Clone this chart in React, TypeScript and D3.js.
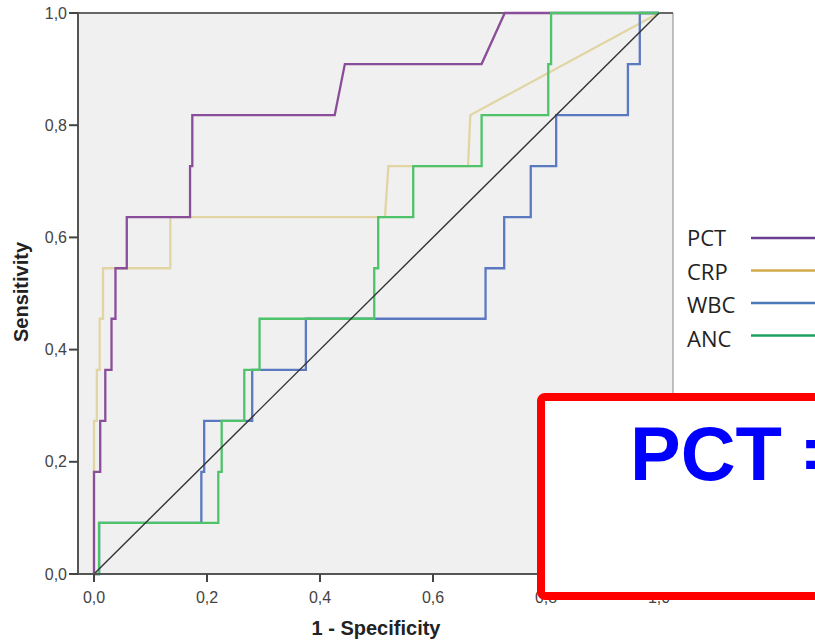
import React from "react";
import * as d3 from "d3";

type Pt = [number, number];

const seriesNames = ["PCT", "CRP", "WBC", "ANC"];
const lineColors = ["#8a4d9a", "#e2d5a4", "#5b79c0", "#4fc36a"];
const legendColors = ["#6b3f8f", "#d4aa4a", "#4a7ab8", "#1fa060"];

const pct: Pt[] = [
  [0, 0], [0, 0.182], [0.011, 0.182], [0.011, 0.273], [0.02, 0.273], [0.02, 0.364],
  [0.031, 0.364], [0.031, 0.455], [0.038, 0.455], [0.038, 0.545], [0.058, 0.545],
  [0.058, 0.636], [0.17, 0.636], [0.17, 0.727], [0.174, 0.727], [0.174, 0.818],
  [0.426, 0.818], [0.444, 0.909], [0.686, 0.909], [0.727, 1], [1, 1],
];
const crp: Pt[] = [
  [0, 0], [0, 0.273], [0.005, 0.273], [0.005, 0.364], [0.01, 0.364], [0.01, 0.455],
  [0.016, 0.455], [0.016, 0.545], [0.135, 0.545], [0.135, 0.636], [0.515, 0.636],
  [0.521, 0.727], [0.662, 0.727], [0.666, 0.818], [1, 1],
];
const wbc: Pt[] = [
  [0, 0], [0.009, 0], [0.009, 0.091], [0.19, 0.091], [0.19, 0.182], [0.195, 0.182],
  [0.195, 0.273], [0.28, 0.273], [0.28, 0.364], [0.375, 0.364], [0.375, 0.455],
  [0.693, 0.455], [0.693, 0.545], [0.726, 0.545], [0.726, 0.636], [0.773, 0.636],
  [0.773, 0.727], [0.818, 0.727], [0.818, 0.818], [0.945, 0.818], [0.945, 0.909],
  [0.966, 0.909], [0.966, 1], [1, 1],
];
const anc: Pt[] = [
  [0, 0], [0.009, 0], [0.009, 0.091], [0.22, 0.091], [0.22, 0.182], [0.226, 0.182],
  [0.226, 0.273], [0.266, 0.273], [0.266, 0.364], [0.293, 0.364], [0.293, 0.455],
  [0.496, 0.455], [0.496, 0.545], [0.503, 0.545], [0.503, 0.636], [0.565, 0.636],
  [0.565, 0.727], [0.686, 0.727], [0.686, 0.818], [0.804, 0.818], [0.804, 0.909],
  [0.809, 0.909], [0.809, 1], [1, 1],
];
const reference: Pt[] = [[0, 0], [1, 1]];

const tickValues = [0, 0.2, 0.4, 0.6, 0.8, 1.0];
const tickLabels = ["0,0", "0,2", "0,4", "0,6", "0,8", "1,0"];
const xTitle = "1 - Specificity";
const yTitle = "Sensitivity";
const boxText = "PCT =";

export default function App() {
  const W = 815, H = 640;
  const frame = { left: 78, right: 673, top: 13, bottom: 574 };
  const x = d3.scaleLinear().domain([0, 1]).range([94, 659]);
  const y = d3.scaleLinear().domain([0, 1]).range([574, 13]);
  const line = d3.line<Pt>().x((d) => x(d[0])).y((d) => y(d[1]));
  const all = [pct, crp, wbc, anc];
  const drawOrder = [1, 0, 2, 3];

  return (
    <svg width={W} height={H} style={{ position: "absolute", left: 0, top: 0, background: "#fff" }}
      fontFamily="'Liberation Sans', Arial, sans-serif">
      <rect x={frame.left} y={frame.top} width={frame.right - frame.left}
        height={frame.bottom - frame.top} fill="#f0f0f0" />
      <line x1={frame.right} x2={frame.right} y1={frame.top} y2={frame.bottom} stroke="#9a9a9a" strokeWidth={1.2} />
      <line x1={frame.left} x2={frame.right} y1={frame.top} y2={frame.top} stroke="#666" strokeWidth={2} />

      {drawOrder.map((i) => (
        <path key={seriesNames[i]} d={line(all[i]) || ""} fill="none" stroke={lineColors[i]}
          strokeWidth={2.3} strokeLinejoin="miter" />
      ))}
      <path d={line(reference) || ""} fill="none" stroke="#333" strokeWidth={1.4} />

      <line x1={frame.left} x2={frame.left} y1={frame.top - 1} y2={frame.bottom + 1} stroke="#555" strokeWidth={2} />
      <line x1={frame.left} x2={frame.right} y1={frame.bottom} y2={frame.bottom} stroke="#555" strokeWidth={2} />

      {tickValues.map((v, i) => (
        <g key={"y" + i}>
          <line x1={frame.left - 9} x2={frame.left} y1={y(v)} y2={y(v)} stroke="#444" strokeWidth={2} />
          <text x={frame.left - 11} y={y(v) + 5.5} fontSize={16} fill="#444" textAnchor="end">{tickLabels[i]}</text>
        </g>
      ))}
      {tickValues.map((v, i) => (
        <g key={"x" + i}>
          <line x1={x(v)} x2={x(v)} y1={frame.bottom} y2={frame.bottom + 8} stroke="#444" strokeWidth={2} />
          <text x={x(v)} y={603} fontSize={16} fill="#444" textAnchor="middle">{tickLabels[i]}</text>
        </g>
      ))}

      <text x={376} y={635} fontSize={20} fontWeight="bold" fill="#222" textAnchor="middle">{xTitle}</text>
      <text transform="translate(28,292) rotate(-90)" fontSize={20} fontWeight="bold" fill="#222"
        textAnchor="middle">{yTitle}</text>

      {seriesNames.map((n, i) => (
        <g key={"lg" + n} fontFamily="'Open Sans', 'Noto Sans', sans-serif">
          <text x={687} y={246 + i * 33.7} fontSize={22} fill="#222">{n}</text>
          <line x1={751} x2={830} y1={238 + i * 32.5} y2={238 + i * 32.5} stroke={legendColors[i]} strokeWidth={2.6} />
        </g>
      ))}

      <rect x={541} y={397} width={320} height={199} rx={4} fill="#fff" stroke="#ff0000" strokeWidth={8} />
      <text x={630} y={480} fontSize={76} fontWeight="bold" fill="#0000ff">{boxText}</text>
    </svg>
  );
}
